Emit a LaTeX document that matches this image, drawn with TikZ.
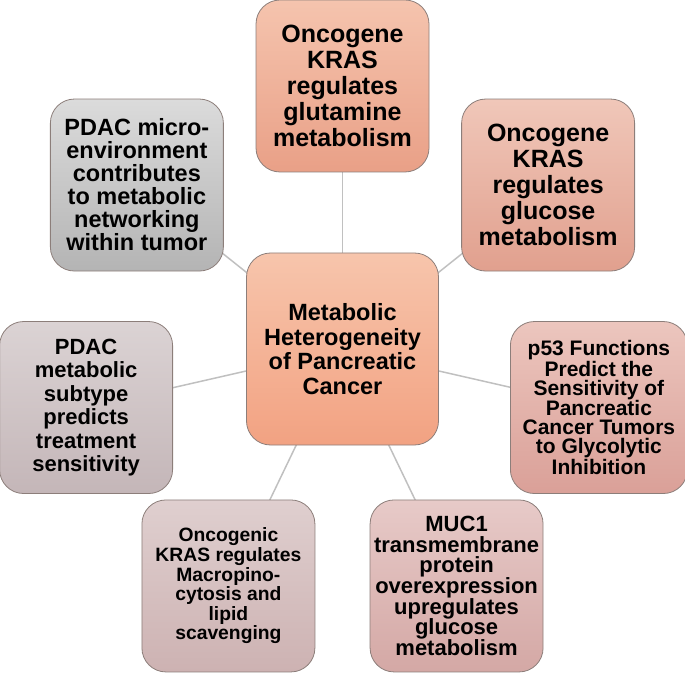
\documentclass[tikz,border=0pt]{standalone}
\usepackage{fontspec}
\setmainfont{Liberation Sans}
\usepackage{xcolor}
\usetikzlibrary{positioning,calc,backgrounds}
\definecolor{LinkGray}{RGB}{192,192,192}
\definecolor{EdgeGray}{RGB}{140,126,122}
% fill colours, light top / dark bottom
\definecolor{HubTop}{RGB}{247,197,172}
\definecolor{HubBot}{RGB}{242,162,130}
\definecolor{GlutTop}{RGB}{245,196,174}
\definecolor{GlutBot}{RGB}{233,160,135}
\definecolor{GlucTop}{RGB}{240,199,185}
\definecolor{GlucBot}{RGB}{225,160,142}
\definecolor{PTop}{RGB}{236,198,190}
\definecolor{PBot}{RGB}{218,160,152}
\definecolor{MucTop}{RGB}{231,202,200}
\definecolor{MucBot}{RGB}{212,168,165}
\definecolor{MacTop}{RGB}{223,207,207}
\definecolor{MacBot}{RGB}{205,178,178}
\definecolor{SubTop}{RGB}{219,211,212}
\definecolor{SubBot}{RGB}{196,182,184}
\definecolor{MicTop}{RGB}{219,219,219}
\definecolor{MicBot}{RGB}{180,180,180}
\tikzset{
    box/.style={rectangle, rounded corners=24pt, draw=EdgeGray, line width=0.8pt,
        minimum width=173pt, minimum height=172pt, inner sep=0pt, align=center, text=black},
    txt/.style 2 args={font=\bfseries\fontsize{#1}{#2}\selectfont},
    link/.style={draw=LinkGray, line width=1.5pt}
}

\begin{document}
\begin{tikzpicture}[x=1pt, y=1pt]
    \useasboundingbox (0,0) rectangle (685,673);

    % --- NUT TRUNG TAM ---
    \node[box, minimum width=192pt, minimum height=192pt, top color=HubTop, bottom color=HubBot,
        txt={23.5}{24.5}] (hub) at (342.5,324)
        {Metabolic\\Heterogeneity\\of Pancreatic\\Cancer};

    % --- 7 NUT XUNG QUANH (ban kinh 263) ---
    \node[box, top color=GlutTop, bottom color=GlutBot, txt={25}{26}] (glut)
        at ($(hub)+(90:263)$) {Oncogene\\KRAS\\regulates\\glutamine\\metabolism};
    \node[box, top color=GlucTop, bottom color=GlucBot, txt={25}{26}] (gluc)
        at ($(hub)+(38.57:263)$) {Oncogene\\KRAS\\regulates\\glucose\\metabolism};
    \node[box, minimum width=177pt, top color=PTop, bottom color=PBot, txt={21}{19}] (ptf)
        at ($(hub)+(-12.86:263)$) {p53 Functions\\Predict the\\Sensitivity of\\Pancreatic\\Cancer Tumors\\to Glycolytic\\Inhibition};
    \node[box, top color=MucTop, bottom color=MucBot, txt={22}{20.7}] (muc)
        at ($(hub)+(-64.29:263)$) {MUC1\\transmembrane\\protein\\overexpression\\upregulates\\glucose\\metabolism};
    \node[box, top color=MacTop, bottom color=MacBot, txt={19.3}{19.6}] (macro)
        at ($(hub)+(-115.71:263)$) {Oncogenic\\KRAS regulates\\Macropino-\\cytosis and\\lipid\\scavenging};
    \node[box, top color=SubTop, bottom color=SubBot, txt={22}{23.4}] (subtype)
        at ($(hub)+(-167.14:263)$) {PDAC\\metabolic\\subtype\\predicts\\treatment\\sensitivity};
    \node[box, top color=MicTop, bottom color=MicBot, txt={23.5}{23}] (micro)
        at ($(hub)+(141.43:263)$) {PDAC micro-\\environment\\contributes\\to metabolic\\networking\\within tumor};

    % --- DUONG NOI (nam duoi cac hop) ---
    \begin{scope}[on background layer]
        \foreach \n in {glut, gluc, ptf, muc, macro, subtype, micro} {
            \draw[link] (hub.center) -- (\n.center);
        }
    \end{scope}
\end{tikzpicture}
\end{document}
